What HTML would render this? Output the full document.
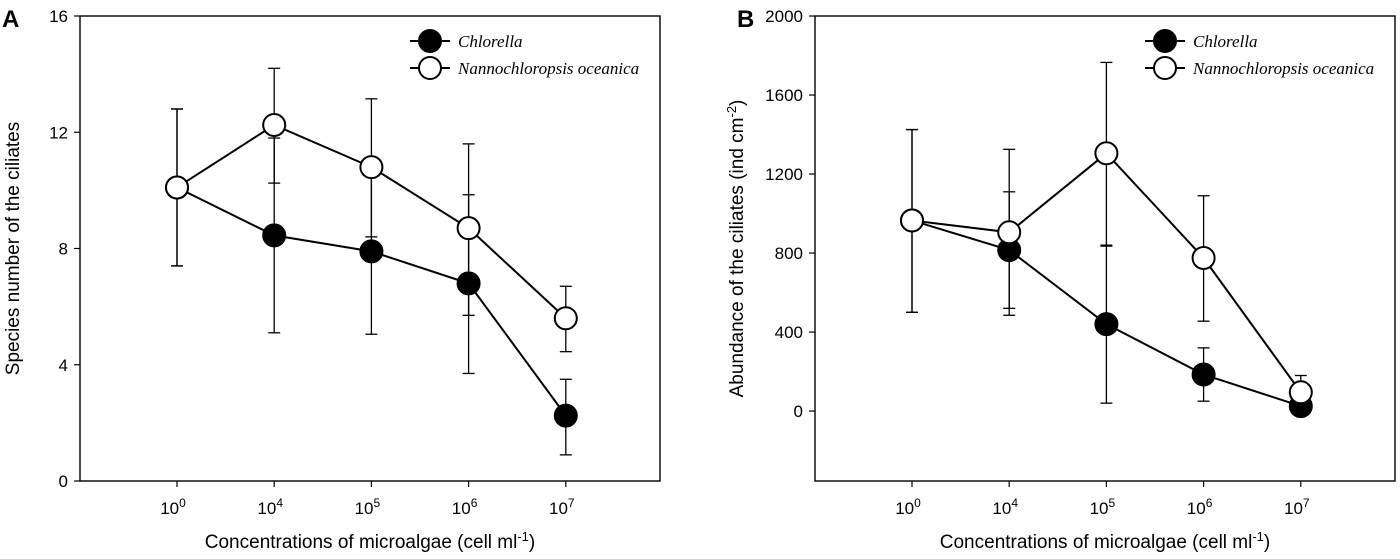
<!DOCTYPE html>
<html><head><meta charset="utf-8"><style>
body{margin:0;background:#fff;}
svg{display:block;font-family:"Liberation Sans",Arial,sans-serif;}
</style></head><body>
<svg id="s" width="1400" height="559" xmlns="http://www.w3.org/2000/svg"></svg>
<script>
const categories=["0","4","5","6","7"];
const aChlorella=[10.1,8.45,7.9,6.8,2.25];
const aChlorellaHi=[12.8,11.8,10.75,9.85,3.5];
const aChlorellaLo=[7.4,5.1,5.05,3.7,0.9];
const aNanno=[10.1,12.25,10.8,8.7,5.6];
const aNannoHi=[12.8,14.2,13.15,11.6,6.7];
const aNannoLo=[7.4,10.25,8.4,5.7,4.45];
const aTicks=[0,4,8,12,16];
const bChlorella=[965,815,440,185,25];
const bChlorellaHi=[1425,1110,835,320,60];
const bChlorellaLo=[500,520,40,50,0];
const bNanno=[965,905,1305,775,95];
const bNannoHi=[1425,1325,1765,1090,180];
const bNannoLo=[500,485,840,455,10];
const bTicks=[0,400,800,1200,1600,2000];

const NS="http://www.w3.org/2000/svg";
const svg=document.getElementById('s');
function mk(t,a,p){const e=document.createElementNS(NS,t);for(const k in a)e.setAttribute(k,a[k]);(p||svg).appendChild(e);return e;}

function panel(o){
  const g=mk('g',{});
  
  
  const L=o.x0,R=o.x0+580,T=16,B=481;
  const y=v=>B-(v-o.ymin)/(o.ymax-o.ymin)*(B-T);
  const x=i=>L+97+i*97.2;
  const box=mk('rect',{x:L,y:T,width:R-L,height:B-T,fill:'none',stroke:'#000','stroke-width':1.4},g);
  
  o.ticks.forEach(t=>{
    mk('line',{x1:L-6,x2:L,y1:y(t),y2:y(t),stroke:'#000','stroke-width':1.2},g);
    const tx=mk('text',{x:L-12,y:y(t)+6,'text-anchor':'end','font-size':17},g);tx.textContent=t;
    
  });
  categories.forEach((c,i)=>{
    mk('line',{x1:x(i),x2:x(i),y1:B,y2:B+6,stroke:'#000','stroke-width':1.2},g);
    const tx=mk('text',{x:x(i)-4,y:B+33,'text-anchor':'middle','font-size':17},g);
    tx.innerHTML='10<tspan dy="-7" font-size="12">'+c+'</tspan>';
    
  });
  const xt=mk('text',{x:(L+R)/2,y:548,'text-anchor':'middle','font-size':19},g);
  xt.innerHTML='Concentrations of microalgae (cell ml<tspan dy="-7" font-size="13">-1</tspan><tspan dy="7">)</tspan>';
  
  const yt=mk('text',{x:0,y:0,'text-anchor':'middle','font-size':19,transform:`translate(${L-o.ytOff},${(T+B)/2}) rotate(-90)`},g);
  yt.innerHTML=o.ytitle;
  
  const lab=mk('text',{x:o.labX,y:27,'font-size':24,'font-weight':'bold'},g);lab.textContent=o.id;
  
  o.series.forEach(s=>{
    const sg=mk('g',{},g);
    
    s.v.forEach((v,i)=>{
      mk('line',{x1:x(i),x2:x(i),y1:y(s.hi[i]),y2:y(s.lo[i]),stroke:'#000','stroke-width':1.3},sg);
      [s.hi[i],s.lo[i]].forEach(e=>mk('line',{x1:x(i)-6,x2:x(i)+6,y1:y(e),y2:y(e),stroke:'#000','stroke-width':1.3},sg));
    });
    mk('polyline',{points:s.v.map((v,i)=>x(i)+','+y(v)).join(' '),fill:'none',stroke:'#000','stroke-width':2},sg);
  });
  o.series.forEach(s=>{
    s.v.forEach((v,i)=>{
      const c=mk('circle',{cx:x(i),cy:y(v),r:11,fill:s.fill,stroke:'#000','stroke-width':2},g);
      
    });
  });
  o.series.forEach((s,k)=>{
    const ly=41+k*27, lx=L+330;
    const lg=mk('g',{},g);
    
    mk('line',{x1:lx,x2:lx+40,y1:ly,y2:ly,stroke:'#000','stroke-width':2},lg);
    mk('circle',{cx:lx+20,cy:ly,r:11,fill:s.fill,stroke:'#000','stroke-width':2},lg);
    const t=mk('text',{x:lx+48,y:ly+6,'font-size':17,'font-style':'italic','font-family':'"Liberation Serif",serif'},lg);
    t.textContent=s.label;
  });
}
panel({id:'A',x0:80,ymin:0,ymax:16,ticks:aTicks,labX:2,ytOff:61,
  ytitle:'Species number of the ciliates',
  series:[{name:'chlorella',label:'Chlorella',fill:'#000',v:aChlorella,hi:aChlorellaHi,lo:aChlorellaLo},
          {name:'nannochloropsis',label:'Nannochloropsis oceanica',fill:'#fff',v:aNanno,hi:aNannoHi,lo:aNannoLo}]});
panel({id:'B',x0:815,ymin:-354,ymax:2000,ticks:bTicks,labX:737,ytOff:72,
  ytitle:'Abundance of the ciliates (ind cm<tspan dy="-7" font-size="13">-2</tspan><tspan dy="7">)</tspan>',
  series:[{name:'chlorella',label:'Chlorella',fill:'#000',v:bChlorella,hi:bChlorellaHi,lo:bChlorellaLo},
          {name:'nannochloropsis',label:'Nannochloropsis oceanica',fill:'#fff',v:bNanno,hi:bNannoHi,lo:bNannoLo}]});
</script>
</body></html>
